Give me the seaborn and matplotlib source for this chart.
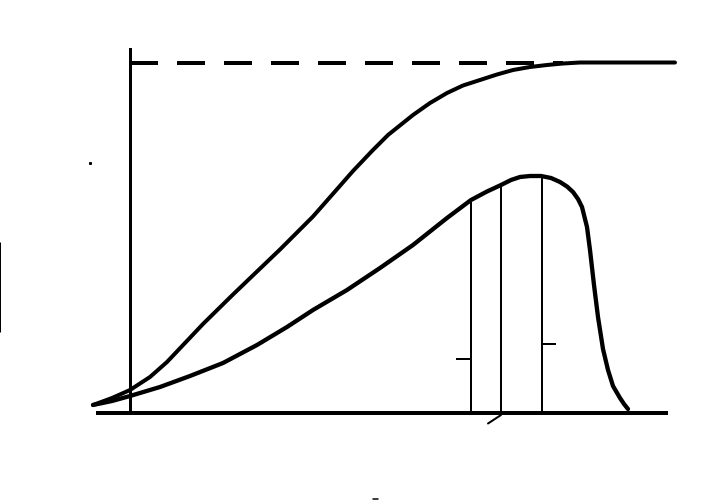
import numpy as np
import pandas as pd
import matplotlib
matplotlib.use("Agg")
import matplotlib.pyplot as plt
import seaborn as sns

# ---- data (chart units: origin at the axis crossing) ----
# cumulative S-curve
s_x = [-37, -18, 0, 20, 37, 55, 73, 103, 127, 150, 183, 205, 223, 242, 258, 283, 300, 317, 333, 350, 367, 383, 400, 417, 433, 450, 545]
s_y = [7.5, 14.5, 22.5, 35.5, 50.5, 69.5, 88.5, 118, 141, 163, 196, 221, 241.5, 261.5, 277.5, 297.5, 309.5, 319.5, 327, 332.5, 338, 342.5, 345.5, 347.5, 349, 350, 350]

# skewed bell curve
b_x = [-37, -18, 0, 30, 60, 93, 127, 157, 183, 217, 250, 283, 317, 341, 357, 371, 381, 390, 400, 411, 421, 430, 437, 443, 448, 452, 457, 460, 464, 468, 473, 478, 483, 490, 494, 498]
b_y = [7.5, 11.5, 16.5, 25.5, 36.5, 49.5, 67.5, 85.5, 102.5, 122.5, 144.5, 167.5, 194.5, 212.5, 221, 227.5, 232.5, 235.5, 236.5, 236.5, 234.5, 230.5, 226, 220.5, 213.5, 205.5, 185.5, 162.5, 127.5, 95.5, 63.5, 42.5, 26.5, 14.5, 8.5, 3.5]

# saturation level (dashed asymptote)
plateau_level = 350
plateau_x = [0, 433]

# x-axis extent
xaxis_x = [-34, 538]
yaxis_top = 365

# vertical marker lines under the bell curve
marker_x = [341, 371, 412]
marker_top = [212.5, 227.5, 236]

# small side ticks on markers
tick_x0 = [326, 412]
tick_x1 = [341, 426]
tick_y = [53.5, 68.5]

# slanted tick under the middle marker
slant_x = [358, 371]
slant_y = [-11, -2.5]

# stray marks in the picture
stray_v_x = [-129.6]
stray_v_y0 = [80.5]
stray_v_y1 = [170.5]
stray_dot_x = [-40.5]
stray_dot_y = [249.5]
stray_dash_x = [243, 248]
stray_dash_y = [-86.5, -86.5]

# ---- figure ----
sns.set_theme(style="white")
fig = plt.figure(figsize=(7.18, 5.0), dpi=100)
ax = fig.add_axes([0, 0, 1, 1])
ax.set_xlim(-130, 588)
ax.set_ylim(-87.5, 412.5)
ax.axis("off")
fig.patch.set_facecolor("white")

px = 0.72  # points per pixel at 100 dpi

# axes lines
ax.plot(xaxis_x, [0, 0], color="black", lw=4 * px, solid_capstyle="butt", antialiased=False)
ax.plot([0, 0], [0, yaxis_top], color="black", lw=3 * px, solid_capstyle="butt", antialiased=False)

# dashed plateau
ax.plot(plateau_x, [plateau_level, plateau_level], color="black", lw=4 * px,
        dashes=(6.8, 4.9), dash_capstyle="butt", antialiased=False)

df_s = pd.DataFrame({"x": s_x, "y": s_y})
df_b = pd.DataFrame({"x": b_x, "y": b_y})
sns.lineplot(data=df_s, x="x", y="y", sort=False, estimator=None, color="black",
             lw=4 * px, ax=ax, legend=False)
sns.lineplot(data=df_b, x="x", y="y", sort=False, estimator=None, color="black",
             lw=4.3 * px, ax=ax, legend=False)

# markers
ax.vlines(marker_x, 0, marker_top, color="black", lw=2 * px, antialiased=False)
ax.hlines(tick_y, tick_x0, tick_x1, color="black", lw=2 * px, antialiased=False)
ax.plot(slant_x, slant_y, color="black", lw=2 * px)

# stray marks
ax.vlines(stray_v_x, stray_v_y0, stray_v_y1, color="black", lw=1 * px)
ax.plot(stray_dot_x, stray_dot_y, "s", color="black", ms=1.2)
ax.plot(stray_dash_x, stray_dash_y, color="black", lw=1.5 * px)

fig.savefig("out.png", dpi=100, facecolor="white")
